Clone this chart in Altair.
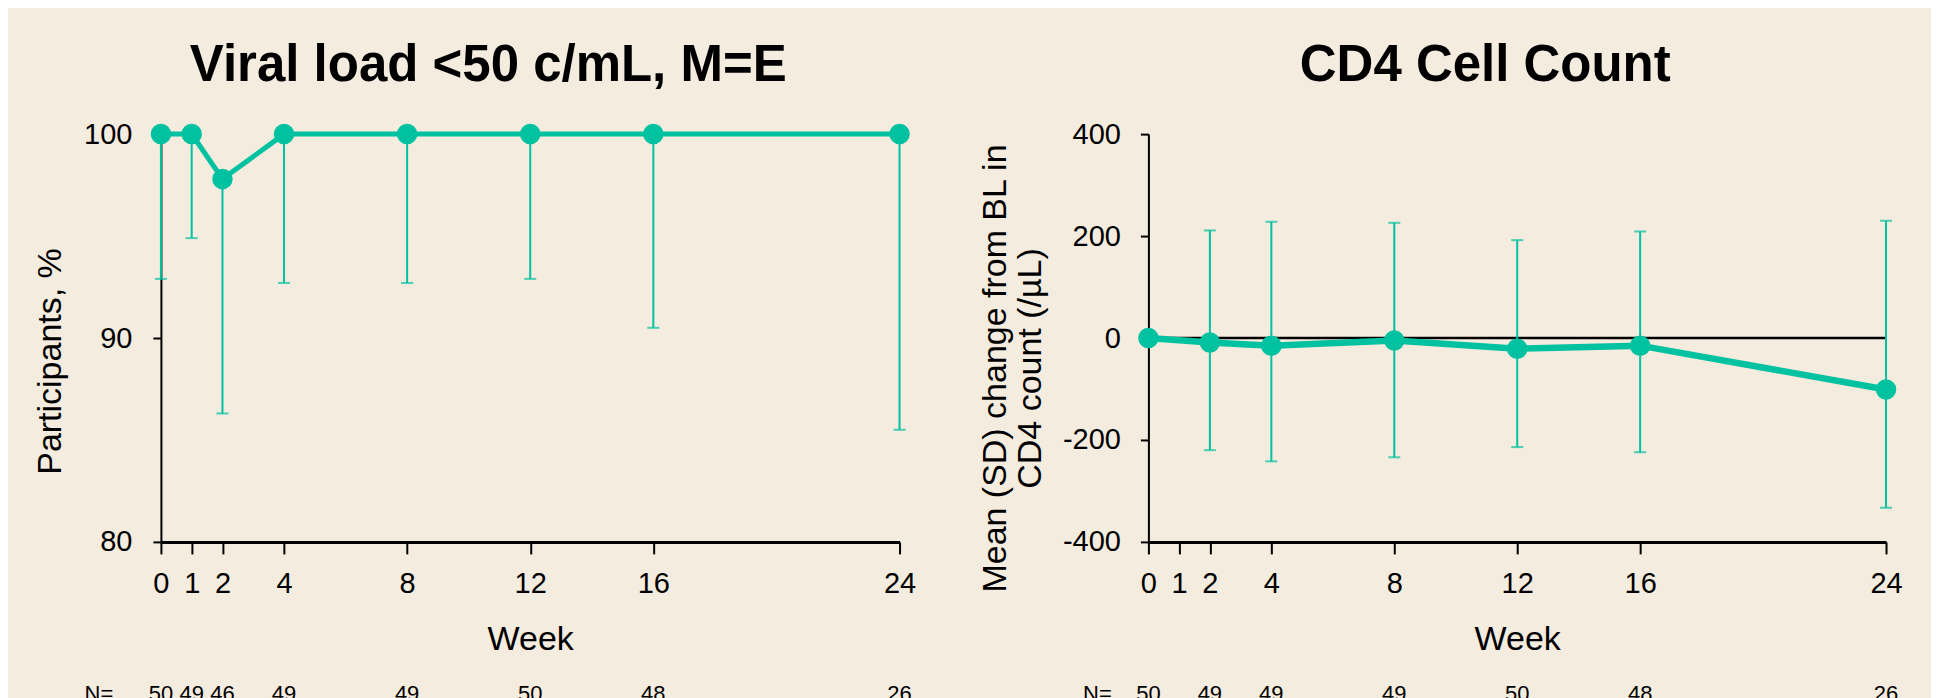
import altair as alt
import pandas as pd

# ---------------- data ----------------
weeks = [0, 1, 2, 4, 8, 12, 16, 24]
vl_pct = [100, 100, 97.8, 100, 100, 100, 100, 100]
vl_lower = [92.9, 94.9, 86.3, 92.7, 92.7, 92.9, 90.5, 85.5]
vl_upper = [100, 100, 97.8, 100, 100, 100, 100, 100]
vl_n = [50, 49, 46, 49, 49, 50, 48, 26]

cd4_weeks = [0, 2, 4, 8, 12, 16, 24]
cd4_mean = [0, -9, -15, -5, -21, -15, -101]
cd4_upper = [None, 211, 228, 226, 192, 209, 230]
cd4_lower = [None, -220, -242, -234, -214, -224, -333]
cd4_n = [50, 49, 49, 49, 50, 48, 26]

x_ticks = [0, 1, 2, 4, 8, 12, 16, 24]
vl_y_ticks = [80, 90, 100]
cd4_y_ticks = [-400, -200, 0, 200, 400]

title_left = "Viral load <50 c/mL, M=E"
title_right = "CD4 Cell Count"
ytitle_left = "Participants, %"
ytitle_right = ["Mean (SD) change from BL in", "CD4 count (/µL)"]
xtitle = "Week"
n_label = "N="

# ---------------- style ----------------
FONT = "Liberation Sans"
TEAL = "#00C1A0"
BG = "#F4ECDF"
W_L, W_R, H = 739, 738, 408

vl_df = pd.DataFrame({"week": weeks, "pct": vl_pct, "lo": vl_lower, "hi": vl_upper, "n": vl_n})
cd4_df = pd.DataFrame({"week": cd4_weeks, "mean": cd4_mean, "lo": cd4_lower, "hi": cd4_upper, "n": cd4_n})
cd4_err = cd4_df.dropna()


def x_axis(width):
    return alt.Axis(values=x_ticks, title=xtitle, grid=False, tickSize=12, tickWidth=2,
                    domainWidth=3, domainColor="black", tickColor="black", labelFlush=False,
                    labelFontSize=29, labelPadding=16, labelColor="black", labelFont=FONT,
                    titleFont=FONT, titleFontSize=34, titleFontWeight="normal", titleColor="black",
                    titleX=width / 2, titleY=108, titleBaseline="alphabetic", titleAlign="center")


xs_l = alt.X("week:Q", scale=alt.Scale(domain=[0, 24], nice=False, zero=False), axis=x_axis(W_L))
xs_r = alt.X("week:Q", scale=alt.Scale(domain=[0, 24], nice=False, zero=False), axis=x_axis(W_R))

ax_l = alt.Axis(values=vl_y_ticks, title=ytitle_left, grid=False, tickSize=8, tickWidth=2,
                domainWidth=2, domainColor="black", tickColor="black", labelFlush=False,
                labelFontSize=29, labelPadding=21, labelColor="black", labelFont=FONT,
                titleFont=FONT, titleFontSize=34, titleFontWeight="normal", titleColor="black",
                titleX=-100, titleY=227, titleAngle=-90, titleAlign="center", titleBaseline="alphabetic")

ax_r = alt.Axis(values=cd4_y_ticks, title=ytitle_right, grid=False, tickSize=8, tickWidth=2,
                domainWidth=2, domainColor="black", tickColor="black", labelFlush=False,
                labelFontSize=29, labelPadding=20, labelColor="black", labelFont=FONT,
                labelExpr="datum.value + ''",
                titleFont=FONT, titleFontSize=34, titleFontWeight="normal", titleColor="black",
                titleX=-143, titleY=234, titleAngle=-90, titleAlign="center", titleBaseline="alphabetic",
                titleLineHeight=35)

ys_l = alt.Scale(domain=[80, 100], nice=False, zero=False)
ys_r = alt.Scale(domain=[-400, 400], nice=False, zero=False)

# ---------------- left panel ----------------
base_l = alt.Chart(vl_df)
l_err = base_l.mark_rule(color=TEAL, strokeWidth=2).encode(
    x=xs_l, y=alt.Y("lo:Q", scale=ys_l, axis=ax_l), y2="hi:Q")
l_cap = base_l.mark_tick(color=TEAL, orient="horizontal", size=12, thickness=2).encode(
    x="week:Q", y="lo:Q")
l_line = base_l.mark_line(color=TEAL, strokeWidth=5).encode(x="week:Q", y="pct:Q")
l_pt = base_l.mark_circle(color=TEAL, size=420, opacity=1).encode(x="week:Q", y="pct:Q")
l_n = base_l.mark_text(fontSize=22, font=FONT, color="black", baseline="alphabetic").encode(
    x="week:Q", y=alt.value(567), text="n:Q")
l_nlab = alt.Chart(pd.DataFrame({"t": [n_label]})).mark_text(
    fontSize=22, font=FONT, color="black", baseline="alphabetic").encode(
    x=alt.value(-62), y=alt.value(567), text="t:N")

left = alt.layer(l_err, l_cap, l_line, l_pt, l_n, l_nlab).properties(
    width=W_L, height=H,
    title=alt.TitleParams(title_left, fontSize=51, fontWeight="bold", font=FONT, color="black",
                          anchor="middle", frame="group", dx=-42, offset=-12, baseline="alphabetic"))

# ---------------- right panel ----------------
base_r = alt.Chart(cd4_df)
r_zero = alt.Chart(pd.DataFrame({"z": [0]})).mark_rule(color="black", strokeWidth=2.5).encode(
    y=alt.Y("z:Q", scale=ys_r, axis=ax_r))
r_err = alt.Chart(cd4_err).mark_rule(color=TEAL, strokeWidth=2).encode(
    x=xs_r, y=alt.Y("lo:Q"), y2="hi:Q")
r_cap_lo = alt.Chart(cd4_err).mark_tick(color=TEAL, orient="horizontal", size=12, thickness=2).encode(
    x="week:Q", y="lo:Q")
r_cap_hi = alt.Chart(cd4_err).mark_tick(color=TEAL, orient="horizontal", size=12, thickness=2).encode(
    x="week:Q", y="hi:Q")
r_line = base_r.mark_line(color=TEAL, strokeWidth=6.5).encode(x="week:Q", y="mean:Q")
r_pt = base_r.mark_circle(color=TEAL, size=420, opacity=1).encode(x="week:Q", y="mean:Q")
r_n = base_r.mark_text(fontSize=22, font=FONT, color="black", baseline="alphabetic").encode(
    x="week:Q", y=alt.value(567), text="n:Q")
r_nlab = alt.Chart(pd.DataFrame({"t": [n_label]})).mark_text(
    fontSize=22, font=FONT, color="black", baseline="alphabetic").encode(
    x=alt.value(-51), y=alt.value(567), text="t:N")

right = alt.layer(r_zero, r_err, r_cap_lo, r_cap_hi, r_line, r_pt, r_n, r_nlab).properties(
    width=W_R, height=H,
    title=alt.TitleParams(title_right, fontSize=51, fontWeight="bold", font=FONT, color="black",
                          anchor="middle", frame="group", dx=-32, offset=-12, baseline="alphabetic"))

chart = alt.hconcat(left, right, spacing=249, bounds="flush").properties(
    background=BG,
    padding={"left": 26, "top": 32, "right": 28, "bottom": 0},
).configure_view(stroke=None)

chart.save("out.html", embed_options={"renderer": "svg", "actions": False})
